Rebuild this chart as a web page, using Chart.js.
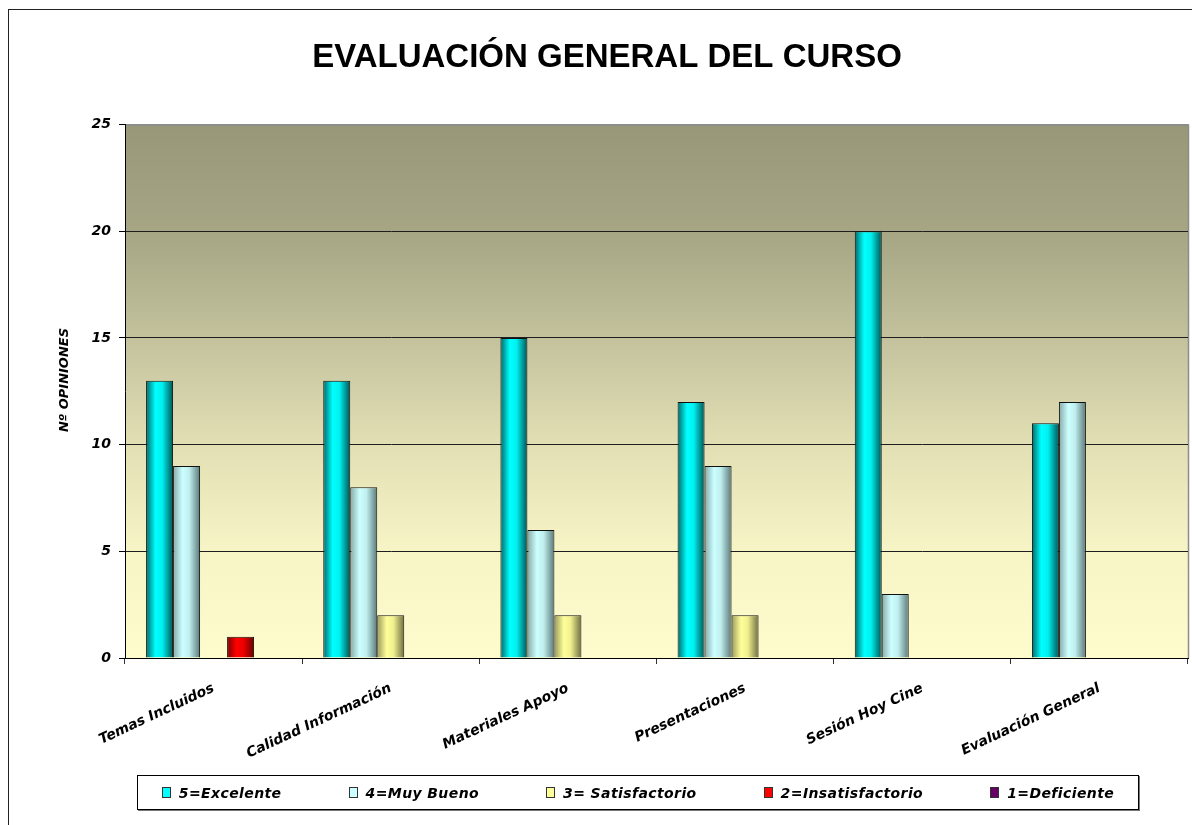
<!DOCTYPE html>
<html>
<head>
<meta charset="utf-8">
<script src="https://cdn.jsdelivr.net/npm/chart.js@4.4.1/dist/chart.umd.min.js"></script>
<style>
  html, body { margin:0; padding:0; background:#fff; overflow:hidden; }
  #wrap   { position:relative; width:1192px; height:825px; }
  #frame  { position:absolute; left:8px; top:9px; width:1300px; height:900px; border:1px solid #222; }
  #chart  { position:absolute; left:0; top:0; }
  #legend {
    position:absolute; left:137px; top:775px; width:1000px; height:33px;
    border:1px solid #000; box-shadow:1px 1px 0 #777; background:#fff;
    display:flex; align-items:center; justify-content:center; gap:67px;
    font:italic bold 14px "DejaVu Sans",Verdana,sans-serif; letter-spacing:0.4px; color:#000;
  }
  .lg-item { display:flex; align-items:center; gap:8px; white-space:pre; }
  .lg-box  { width:7px; height:9px; border:1px solid #333; }
</style>
</head>
<body>
<div id="wrap">
  <div id="frame"></div>
  <canvas id="chart" width="1192" height="825"></canvas>
  <div id="legend"></div>
</div>
<script>
// datos
const categories      = ['Temas Incluidos', 'Calidad Información', 'Materiales Apoyo', 'Presentaciones', 'Sesión Hoy Cine', 'Evaluación General'];
const seriesLabels    = ['5=Excelente', '4=Muy Bueno', '3= Satisfactorio', '2=Insatisfactorio', '1=Deficiente'];
const excelente       = [13, 13, 15, 12, 20, 11];
const muyBueno        = [9, 8, 6, 9, 3, 12];
const satisfactorio   = [0, 2, 2, 2, 0, 0];
const insatisfactorio = [1, 0, 0, 0, 0, 0];
const deficiente      = [0, 0, 0, 0, 0, 0];
const yMin = 0, yMax = 25, yStep = 5;

// colores: base + degradado cilindrico (izq, brillo, centro, der)
const baseColors = ['#00ffff', '#ccffff', '#ffff99', '#ff0000', '#660066'];
const barShades  = [
  ['#006868', '#00ffff', '#00f0f0', '#005454'],
  ['#86a8a8', '#ccffff', '#c0eeee', '#5a7878'],
  ['#9a9a5c', '#ffff99', '#f0f090', '#6e6e40'],
  ['#7a0000', '#ff0000', '#ee0000', '#6a0000'],
  ['#300030', '#660066', '#600060', '#2a002a'],
];

const seriesData = [excelente, muyBueno, satisfactorio, insatisfactorio, deficiente];

const plotBgPlugin = {
  id: 'plotBg',
  beforeDraw(chart) {
    const {ctx, chartArea:a} = chart;
    const g = ctx.createLinearGradient(0, a.top, 0, a.bottom);
    g.addColorStop(0,   '#989777');
    g.addColorStop(0.2, '#a6a584');
    g.addColorStop(0.4, '#c3c29d');
    g.addColorStop(0.6, '#e2dfb4');
    g.addColorStop(0.8, '#f7f4c6');
    g.addColorStop(1,   '#fefccd');
    ctx.save();
    ctx.fillStyle = g;
    ctx.fillRect(a.left, a.top, a.right - a.left, a.bottom - a.top);
    ctx.strokeStyle = '#8c8c8c';
    ctx.lineWidth = 1.5;
    ctx.beginPath();
    ctx.moveTo(a.left, a.top + 0.5);
    ctx.lineTo(a.right + 0.5, a.top + 0.5);
    ctx.lineTo(a.right + 0.5, a.bottom);
    ctx.stroke();
    ctx.restore();
  },
  afterLayout(chart) {
    // el titulo va un poco a la derecha del centro del lienzo
    if (chart.titleBlock) { chart.titleBlock.left += 13; chart.titleBlock.right += 13; }
  },
};

const barShadePlugin = {
  id: 'barShade',
  beforeDatasetsDraw(chart) {
    const ctx = chart.ctx;
    chart.data.datasets.forEach((ds, di) => {
      const meta = chart.getDatasetMeta(di);
      const sh = barShades[di];
      meta.data.forEach(el => {
        const {x, width} = el.getProps(['x', 'width'], true);
        if (!isFinite(x) || !width) return;
        const g = ctx.createLinearGradient(x - width/2, 0, x + width/2, 0);
        g.addColorStop(0,    sh[0]);
        g.addColorStop(0.35, sh[1]);
        g.addColorStop(0.6,  sh[2]);
        g.addColorStop(1,    sh[3]);
        el.options.backgroundColor = g;
      });
    });
  },
};

const chart = new Chart(document.getElementById('chart'), {
  type: 'bar',
  data: {
    labels: categories,
    datasets: seriesData.map((d, i) => ({
      label: seriesLabels[i],
      data: d,
      backgroundColor: () => baseColors[i],
      borderColor: '#111',
      borderWidth: 1,
      categoryPercentage: 0.762,
      barPercentage: 1,
    })),
  },
  options: {
    responsive: false,
    animation: false,
    events: [],
    layout: { padding: { left: 0, right: 4, top: 0, bottom: 50 } },
    plugins: {
      legend: { display: false },
      tooltip: { enabled: false },
      title: {
        display: true,
        text: 'EVALUACIÓN GENERAL DEL CURSO',
        color: '#000',
        font: { family: '"Liberation Sans", Arial, sans-serif', size: 33, weight: 'bold' },
        padding: { top: 38, bottom: 47 },
      },
    },
    scales: {
      x: {
        afterFit: s => { s.height = 117; },
        grid: { offset: true, drawOnChartArea: false, drawTicks: true, tickLength: 6, color: '#333' },
        border: { color: '#000', width: 1 },
        ticks: {
          autoSkip: false, minRotation: 25, maxRotation: 25, padding: 16, color: '#000',
          font: { family: '"DejaVu Sans", Verdana, sans-serif', size: 14, weight: 'bold', style: 'italic' },
        },
      },
      y: {
        min: yMin, max: yMax,
        afterFit: s => { s.width = 125; },
        grid: {
          color: c => c.tick && c.tick.value === yMax ? '#8c8c8c' : '#1e1e1e',
          tickLength: 6,
          tickColor: '#000',
        },
        border: { color: '#000', width: 1 },
        ticks: {
          stepSize: yStep, padding: 8, color: '#000',
          font: { family: '"DejaVu Sans", Verdana, sans-serif', size: 14, weight: 'bold', style: 'italic' },
        },
        title: {
          display: true,
          text: '     Nº OPINIONES',
          color: '#000',
          padding: { top: 57, bottom: 0 },
          font: { family: '"DejaVu Sans", Verdana, sans-serif', size: 13, weight: 'bold', style: 'italic' },
        },
      },
    },
  },
  plugins: [plotBgPlugin, barShadePlugin],
});

// leyenda en html, a partir de los datasets
document.getElementById('legend').innerHTML = chart.data.datasets.map((ds, i) => `
  <div class="lg-item"><span class="lg-box" style="background:${baseColors[i]}"></span><span>${ds.label}</span></div>`).join('');
</script>
</body>
</html>
